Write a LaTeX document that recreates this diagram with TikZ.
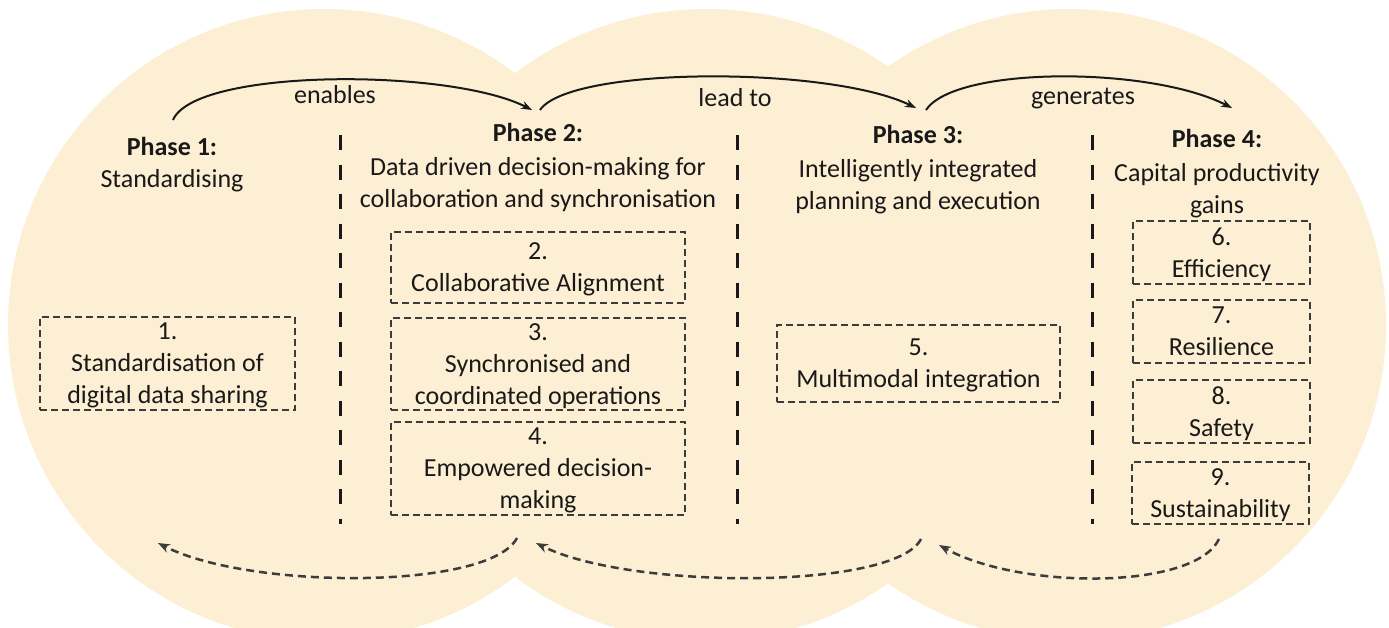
\documentclass[tikz,border=0pt]{standalone}
\usepackage{fontspec}
\setmainfont{Carlito}
\usetikzlibrary{arrows.meta}
\definecolor{cream}{RGB}{253,239,211}
\definecolor{ink}{RGB}{25,25,25}

\begin{document}
\begin{tikzpicture}[x=1pt,y=-1pt,
  every node/.style={font=\fontsize{26}{32}\selectfont, text=ink, inner sep=0pt},
  phase/.style={align=center, anchor=north},
  stage/.style={draw=ink!85, line width=2pt, dash pattern=on 7pt off 4pt, align=center, text depth=-6pt},
  divider/.style={draw=ink, line width=3pt, dash pattern=on 15pt off 14.5pt},
  flow/.style={draw=ink, line width=2pt, -{Stealth[length=11pt,width=8pt]}},
  feedback/.style={draw=ink!85, line width=2.5pt, dash pattern=on 8pt off 5pt, -{Stealth[length=12pt,width=9pt]}}
]
\useasboundingbox (0,0) rectangle (1389,627);

% three overlapping backdrop ellipses
\begin{scope}
  \clip (0,0) rectangle (1389,627);
  \fill[cream] (324,325) ellipse [x radius=316, y radius=316];
  \fill[cream] (706,325) ellipse [x radius=316, y radius=316];
  \fill[cream] (1070,325) ellipse [x radius=316, y radius=316];
\end{scope}

% phase headings
\node[phase] (p1) at (172,137) {{\bfseries Phase 1:}\\Standardising};
\node[phase] (p2) at (538,123) {{\bfseries Phase 2:}\\[2pt]Data driven decision-making for\\collaboration and synchronisation};
\node[phase] (p3) at (918,125) {{\bfseries Phase 3:}\\[2pt]Intelligently integrated\\planning and execution};
\node[phase] (p4) at (1217,129) {{\bfseries Phase 4:}\\[2pt]Capital productivity\\gains};

% column dividers
\coordinate (d1t) at (340,135); \coordinate (d1b) at (340,524);
\coordinate (d2t) at (737,135); \coordinate (d2b) at (737,524);
\coordinate (d3t) at (1092,135); \coordinate (d3b) at (1092,524);
\draw[divider] (d1t) -- (d1b);
\draw[divider] (d2t) -- (d2b);
\draw[divider] (d3t) -- (d3b);

% stage boxes
\node[stage, minimum width=255pt, minimum height=93pt] (b1) at (167.5,363.5) {1.\\Standardisation of\\digital data sharing};
\node[stage, minimum width=294pt, minimum height=71pt] (b2) at (538,267.5) {2.\\Collaborative Alignment};
\node[stage, minimum width=294pt, minimum height=92pt] (b3) at (538,364) {3.\\Synchronised and\\coordinated operations};
\node[stage, minimum width=294pt, minimum height=93pt] (b4) at (538,468.5) {4.\\Empowered decision-\\making};
\node[stage, minimum width=283pt, minimum height=77pt] (b5) at (918.5,363.5) {5.\\Multimodal integration};
\node[stage, minimum width=177pt, minimum height=63pt] (b6) at (1221.5,252.5) {6.\\Efficiency};
\node[stage, minimum width=177pt, minimum height=63pt] (b7) at (1221.5,331.5) {7.\\Resilience};
\node[stage, minimum width=177pt, minimum height=63pt] (b8) at (1221.5,411.5) {8.\\Safety};
\node[stage, minimum width=177pt, minimum height=62pt] (b9) at (1220.5,493) {9.\\Sustainability};

% forward arrows between the phases
\coordinate (f1s) at (173,120);
\coordinate (f1e) at (532,110);
\coordinate (f2s) at (540,110);
\coordinate (f2e) at (916,108);
\coordinate (f3s) at (926,110);
\coordinate (f3e) at (1232,108);
\draw[flow] (f1s) .. controls (195,68) and (450,68) .. (f1e);
\draw[flow] (f2s) .. controls (570,66) and (830,66) .. (f2e);
\draw[flow] (f3s) .. controls (955,66) and (1150,66) .. (f3e);
\node (l1) at (335,95) {enables};
\node (l2) at (735,98) {lead to};
\node (l3) at (1083,99) {generates};

% feedback arrows underneath
\coordinate (r1s) at (517,538);
\coordinate (r1e) at (158,543);
\coordinate (r2s) at (921,539);
\coordinate (r2e) at (536,543);
\coordinate (r3s) at (1219,539);
\coordinate (r3e) at (939,545);
\draw[feedback] (r1s) .. controls (490,590) and (250,590) .. (r1e);
\draw[feedback] (r2s) .. controls (895,590) and (630,590) .. (r2e);
\draw[feedback] (r3s) .. controls (1195,590) and (1020,590) .. (r3e);
\end{tikzpicture}
\end{document}
